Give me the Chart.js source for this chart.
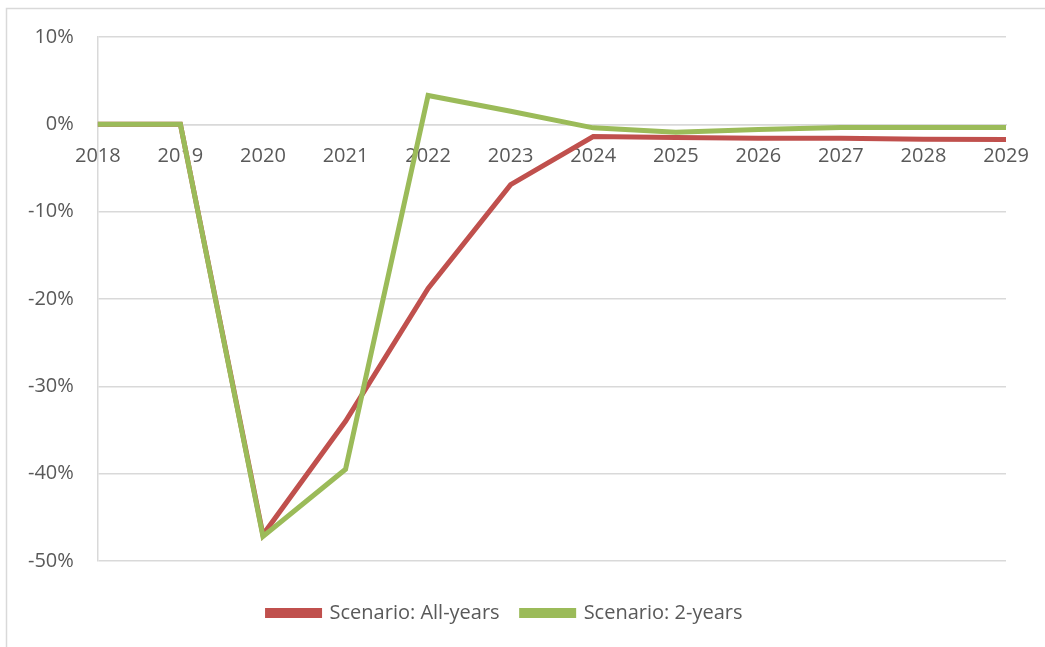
<!DOCTYPE html>
<html>
<head>
<meta charset="utf-8">
<script src="https://cdn.jsdelivr.net/npm/chart.js@4.4.1/dist/chart.umd.min.js"></script>
<style>
    body { margin: 0; background: #fff; }
</style>
</head>
<body>
<canvas id="chart" width="1045" height="647"></canvas>
<script>
var years = ["2018", "2019", "2020", "2021", "2022", "2023", "2024", "2025", "2026", "2027", "2028", "2029"];
var allYears = [0, 0, -47, -34, -18.8, -6.9, -1.4, -1.5, -1.6, -1.6, -1.7, -1.75];
var twoYears = [0, 0, -47.2, -39.5, 3.3, 1.5, -0.4, -0.9, -0.6, -0.35, -0.35, -0.35];
var yMin = -50;
var yMax = 10;
var yStep = 10;

// light frame round the chart (left and top edges only are visible)
var framePlugin = {
    id: "frame",
    afterDraw: function (chart) {
        var c = chart.ctx;
        c.save();
        c.strokeStyle = "#d9d9d9";
        c.lineWidth = 1.5;
        c.beginPath();
        c.moveTo(6.5, 647);
        c.lineTo(6.5, 8.5);
        c.lineTo(1045, 8.5);
        c.stroke();
        c.restore();
    },
};

var ctx = document.getElementById("chart").getContext("2d");
var myChart = new Chart(ctx, {
    type: "line",
    data: {
        labels: years,
        datasets: [
            {
                label: "Scenario: All-years",
                data: allYears,
                borderColor: "#c0504d",
                backgroundColor: "#c0504d",
                borderWidth: 5,
                pointRadius: 0,
                tension: 0,
                order: 1,
            },
            {
                label: "Scenario: 2-years",
                data: twoYears,
                borderColor: "#9bbb59",
                backgroundColor: "#9bbb59",
                borderWidth: 5,
                pointRadius: 0,
                tension: 0,
                order: 0,
            },
        ],
    },
    options: {
        responsive: false,
        animation: false,
        layout: {
            padding: { left: 4, right: 39, top: 37, bottom: 14 },
        },
        scales: {
            x: {
                position: { y: 0 },
                grid: { display: false, drawTicks: false },
                border: { display: true, color: "#d9d9d9", width: 1.5 },
                ticks: {
                    color: "#595959",
                    font: { family: "Open Sans", size: 20, lineHeight: 1.7 },
                    padding: 15,
                    maxRotation: 0,
                    autoSkip: false,
                },
            },
            y: {
                min: yMin,
                max: yMax,
                grid: { color: "#d9d9d9", lineWidth: 1.5, drawTicks: false },
                border: { display: true, color: "#d9d9d9", width: 1.5 },
                ticks: {
                    stepSize: yStep,
                    color: "#595959",
                    font: { family: "Open Sans", size: 20 },
                    padding: 24,
                    callback: function (v) {
                        return v + "%";
                    },
                },
            },
        },
        plugins: {
            legend: {
                position: "bottom",
                title: {
                    display: true,
                    text: " ",
                    font: { size: 10, lineHeight: 1 },
                    padding: { top: 0, bottom: 10 },
                },
                labels: {
                    color: "#595959",
                    font: { family: "Open Sans", size: 20 },
                    boxWidth: 52,
                    boxHeight: 5,
                    padding: 22,
                    sort: function (a, b) {
                        return a.datasetIndex - b.datasetIndex;
                    },
                },
            },
            tooltip: { enabled: false },
        },
    },
    plugins: [framePlugin],
});
</script>
</body>
</html>
